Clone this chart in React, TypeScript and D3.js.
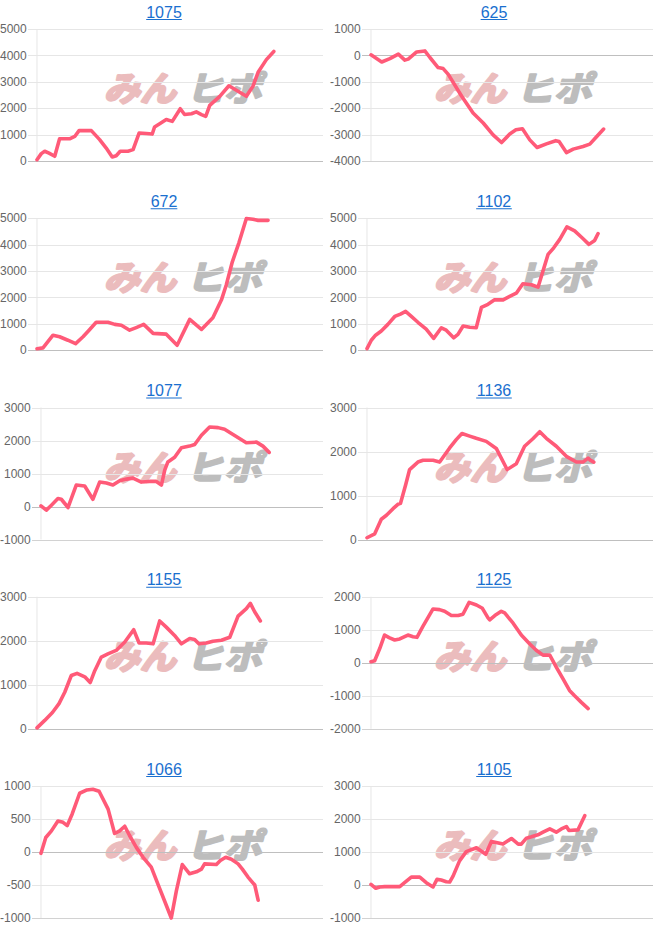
import React from "react";
import * as d3 from "d3";

// ---- data (x: position along the session, 0..100; y: balance) ----
const titles = ["1075", "625", "672", "1102", "1077", "1136", "1155", "1125", "1066", "1105"];

const ticks1075 = [0, 1000, 2000, 3000, 4000, 5000];
const ticks625 = [-4000, -3000, -2000, -1000, 0, 1000];
const ticks672 = [0, 1000, 2000, 3000, 4000, 5000];
const ticks1102 = [0, 1000, 2000, 3000, 4000, 5000];
const ticks1077 = [-1000, 0, 1000, 2000, 3000];
const ticks1136 = [0, 1000, 2000, 3000];
const ticks1155 = [0, 1000, 2000, 3000];
const ticks1125 = [-2000, -1000, 0, 1000, 2000];
const ticks1066 = [-1000, -500, 0, 500, 1000];
const ticks1105 = [-1000, 0, 1000, 2000, 3000];

const s1075: [number, number][] = [
  [0, 50], [1.5, 280], [2.7, 370], [4.2, 300], [6.2, 180], [7.9, 840], [11.4, 840], [13.2, 930],
  [14.7, 1150], [19.0, 1150], [21.9, 810], [24.2, 490], [26.3, 150], [27.7, 200], [29.1, 370],
  [31.8, 370], [33.6, 430], [35.7, 1060], [38.2, 1040], [40.3, 1020], [41.1, 1290], [42.9, 1410],
  [45.2, 1570], [47.3, 1500], [50.1, 1980], [51.6, 1760], [54.0, 1790], [55.7, 1860], [57.5, 1760],
  [59.0, 1690], [60.4, 2110], [63.9, 2450], [67.1, 2850], [73.2, 2450], [75.5, 2830], [77.3, 3360],
  [80.2, 3840], [82.8, 4150],
];
const s625: [number, number][] = [
  [0, 20], [3.8, -250], [6.7, -120], [9.7, 50], [12.0, -180], [13.2, -140], [16.2, 130], [19.1, 170],
  [20.9, -80], [23.8, -460], [25.6, -500], [27.4, -720], [32.1, -1540], [36.2, -2180], [39.8, -2560],
  [43.3, -3010], [46.3, -3300], [49.2, -2980], [51.4, -2820], [53.7, -2780], [56.3, -3200],
  [58.9, -3490], [62.2, -3350], [65.5, -3230], [66.7, -3260], [69.3, -3680], [71.7, -3550],
  [75.2, -3450], [77.6, -3360], [79.9, -3090], [82.5, -2790],
];
const s672: [number, number][] = [
  [0, 60], [2.1, 90], [5.6, 570], [7.9, 510], [10.8, 380], [13.5, 250], [16.1, 510], [18.2, 760],
  [20.7, 1060], [24.8, 1060], [27.2, 980], [29.5, 950], [32.4, 760], [34.7, 860], [37.3, 980],
  [40.6, 640], [45.2, 610], [49.0, 190], [53.4, 1170], [57.5, 790], [61.5, 1230], [64.5, 1910],
  [66.2, 2480], [68.3, 3350], [70.6, 4070], [73.2, 4990], [75.5, 4960], [77.3, 4920], [80.8, 4920],
];
const s1102: [number, number][] = [
  [0, 60], [1.5, 380], [3.0, 570], [5.0, 730], [7.3, 980], [9.7, 1280], [11.7, 1370], [13.5, 1470],
  [15.5, 1280], [17.8, 1060], [20.7, 800], [23.3, 450], [26.0, 850], [27.7, 760], [30.3, 470],
  [31.8, 600], [33.6, 920], [35.9, 870], [38.2, 850], [40.0, 1620], [42.3, 1740], [44.6, 1910],
  [47.6, 1910], [49.9, 2040], [52.2, 2160], [54.5, 2520], [57.5, 2480], [59.8, 2390], [63.3, 3630],
  [65.3, 3880], [67.4, 4200], [69.9, 4670], [72.6, 4520], [75.2, 4260], [77.6, 4010], [79.6, 4160],
  [80.8, 4420],
];
const s1077: [number, number][] = [
  [0, 20], [1.9, -110], [3.7, 40], [6.0, 240], [7.2, 220], [9.6, -30], [12.5, 650], [15.5, 620],
  [18.4, 220], [20.8, 740], [23.2, 710], [25.5, 650], [27.9, 780], [30.3, 830], [32.6, 860],
  [35.6, 740], [38.5, 760], [40.9, 760], [42.7, 650], [43.9, 1110], [45.0, 1350], [47.4, 1490],
  [49.8, 1780], [52.7, 1830], [54.5, 1880], [56.9, 2160], [59.8, 2410], [62.8, 2390], [65.1, 2340],
  [68.1, 2180], [72.8, 1930], [76.4, 1950], [78.7, 1830], [80.9, 1640],
];
const s1136: [number, number][] = [
  [0, 40], [2.7, 130], [5.0, 460], [6.8, 550], [9.1, 700], [10.8, 800], [11.7, 820], [13.5, 1240],
  [14.9, 1590], [17.8, 1760], [19.6, 1800], [23.1, 1800], [25.4, 1760], [28.9, 2080], [31.2, 2270],
  [33.2, 2410], [35.9, 2350], [38.2, 2300], [41.7, 2230], [45.2, 2070], [49.0, 1590], [52.2, 1720],
  [55.1, 2120], [58.0, 2290], [60.4, 2450], [62.7, 2300], [66.2, 2120], [69.7, 1890], [73.2, 1760],
  [75.5, 1760], [77.3, 1850], [77.9, 1810], [79.3, 1760],
];
const s1155: [number, number][] = [
  [0, 20], [2.7, 190], [5.4, 370], [7.7, 570], [9.7, 830], [12.0, 1210], [14.0, 1260], [16.7, 1180],
  [18.6, 1050], [20.2, 1320], [22.5, 1630], [24.8, 1700], [27.7, 1780], [30.7, 1970], [33.8, 2250],
  [35.7, 1950], [38.2, 1950], [40.6, 1930], [42.9, 2450], [45.2, 2310], [48.1, 2120], [50.5, 1930],
  [53.4, 2050], [55.1, 2030], [56.6, 1930], [59.2, 1950], [61.5, 1990], [64.5, 2010], [67.4, 2080],
  [70.3, 2560], [73.2, 2730], [74.6, 2850], [76.1, 2660], [78.1, 2450],
];
const s1125: [number, number][] = [
  [0, 30], [1.3, 60], [3.1, 430], [4.8, 840], [6.4, 760], [8.4, 690], [10.2, 720], [13.1, 840],
  [14.9, 790], [16.3, 770], [18.4, 1100], [22.0, 1630], [24.3, 1610], [26.1, 1560], [28.5, 1430],
  [30.9, 1430], [32.6, 1470], [34.8, 1830], [37.4, 1750], [39.5, 1650], [41.5, 1360], [42.1, 1300],
  [43.9, 1430], [46.2, 1560], [47.4, 1510], [50.4, 1200], [53.3, 840], [56.3, 570], [58.6, 380],
  [61.0, 230], [63.4, 230], [65.7, -130], [68.1, -490], [70.4, -840], [72.2, -1000], [74.6, -1200],
  [77.0, -1390],
];
const s1066: [number, number][] = [
  [0, -20], [1.7, 220], [3.7, 320], [6.0, 470], [7.8, 450], [9.3, 400], [11.1, 580], [13.7, 890],
  [16.3, 940], [18.4, 950], [20.6, 920], [23.8, 650], [26.1, 280], [27.9, 320], [29.7, 390],
  [31.4, 250], [33.8, 70], [36.2, -80], [39.1, -230], [41.5, -490], [43.9, -750], [46.2, -1000],
  [48.0, -590], [50.1, -190], [52.7, -330], [55.1, -300], [56.9, -260], [58.0, -180], [62.2, -190],
  [63.6, -130], [65.5, -80], [67.5, -110], [69.9, -180], [71.4, -260], [73.4, -380], [75.8, -500],
  [77.0, -730],
];
const s1105: [number, number][] = [
  [0, 20], [1.7, -100], [3.1, -60], [4.8, -50], [10.2, -50], [11.9, 70], [14.3, 240], [17.3, 240],
  [19.6, 70], [22.0, -60], [23.4, 170], [24.9, 150], [26.7, 100], [27.9, 90], [29.1, 270], [31.4, 730],
  [33.8, 1010], [37.4, 1130], [40.7, 930], [42.7, 1320], [44.4, 1290], [46.8, 1240], [49.8, 1410],
  [52.2, 1240], [53.3, 1240], [55.1, 1420], [56.9, 1460], [59.2, 1520], [61.0, 1600], [63.4, 1700],
  [65.7, 1600], [67.5, 1700], [69.3, 1770], [70.2, 1650], [73.4, 1670], [75.8, 2100],
];

const seriesList = [s1075, s625, s672, s1102, s1077, s1136, s1155, s1125, s1066, s1105];
const tickList = [ticks1075, ticks625, ticks672, ticks1102, ticks1077, ticks1136, ticks1155, ticks1125, ticks1066, ticks1105];

const W = 660;
const H = 945;
const PANEL_W = 330;
const PANEL_H = 189.25;
const FONT = "'Liberation Sans', Arial, Helvetica, sans-serif";
const JP = "'Noto Sans CJK JP', 'Noto Sans CJK SC', sans-serif";

function labelWidth(s: string) {
  let w = 0;
  for (const c of s) w += c === "-" ? 3.996 : 6.674;
  return w;
}

function Panel({ idx }: { idx: number }) {
  const col = idx % 2;
  const row = Math.floor(idx / 2);
  const ox = col * PANEL_W;
  const oy = row * PANEL_H;
  const ticks = tickList[idx];
  const data = seriesList[idx];
  const labels = ticks.map((t) => String(t));
  const maxW = Math.max(...labels.map(labelWidth));
  const left = ox + maxW + 10.3;
  const right = ox + 323;
  const top = oy + 29;
  const bottom = oy + 161;
  const x = d3.scaleLinear().domain([0, 100]).range([left, right]);
  const y = d3.scaleLinear().domain([ticks[0], ticks[ticks.length - 1]]).range([bottom, top]);
  const line = d3
    .line<[number, number]>()
    .x((d) => x(d[0]))
    .y((d) => y(d[1]))
    .curve(d3.curveLinear);
  const title = titles[idx];
  const titleX = ox + 164;
  const tw = title.length * 8.9;
  return (
    <g>
      <text x={titleX} y={oy + 17.5} textAnchor="middle" fontFamily={FONT} fontSize={16} fill="#1a6fcf">
        {title}
      </text>
      <line x1={titleX - tw / 2} x2={titleX + tw / 2} y1={oy + 19.5} y2={oy + 19.5} stroke="#1a6fcf" strokeWidth={1} />
      {/* watermark */}
      <g transform={`translate(${ox + 104},${oy + 101}) skewX(-14)`}>
        <text x={0} y={0} fontFamily={JP} fontWeight={700} fontSize={34}
          fill="#ebbcbd" stroke="#ebbcbd" strokeWidth={2.6} strokeLinejoin="round"
          textLength={72} lengthAdjust="spacingAndGlyphs">みん</text>
        <text x={82} y={0} fontFamily={JP} fontWeight={700} fontSize={34}
          fill="#bdbdbd" stroke="#bdbdbd" strokeWidth={2.2} strokeLinejoin="round"
          textLength={76} lengthAdjust="spacingAndGlyphs">ヒポ</text>
      </g>
      {/* vertical axis line */}
      <line x1={left} x2={left} y1={top} y2={bottom} stroke="#e6e6e6" strokeWidth={1} />
      {ticks.map((t, i) => {
        const yy = Math.round(y(t)) + 0.5;
        const stroke = t === 0 ? "#bfbfbf" : i === 0 ? "#d2d2d2" : "#e6e6e6";
        return (
          <g key={t}>
            <line x1={left - 9} x2={right} y1={yy} y2={yy} stroke={stroke} strokeWidth={1} />
            <text x={ox + maxW} y={y(t)} dy="0.35em" textAnchor="end" fontFamily={FONT} fontSize={12} fill="#666">
              {labels[i]}
            </text>
          </g>
        );
      })}
      <path d={line(data) || ""} fill="none" stroke="#ff5a78" strokeWidth={3.6} strokeLinejoin="round" strokeLinecap="round" />
    </g>
  );
}

export default function App() {
  return (
    <svg width={W} height={H} style={{ position: "absolute", left: 0, top: 0, background: "#fff" }}>
      <rect x={0} y={0} width={W} height={H} fill="#fff" />
      {titles.map((_, i) => (
        <Panel key={i} idx={i} />
      ))}
    </svg>
  );
}
